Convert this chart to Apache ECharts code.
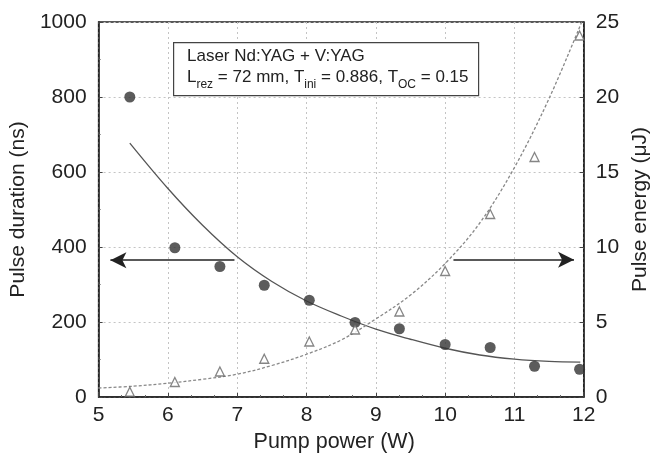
<!DOCTYPE html>
<html>
<head>
<meta charset="utf-8">
<script src="https://cdn.jsdelivr.net/npm/echarts@6/dist/echarts.min.js"></script>
<style>
html,body{margin:0;padding:0;background:#fff;}
#chart{width:659px;height:458px;}
</style>
</head>
<body>
<div id="chart"></div>
<script>
// Measured pulse duration (ns) vs pump power (W)
const powerPoints = [5.45, 6.10, 6.75, 7.39, 8.04, 8.70, 9.34, 10.00, 10.65, 11.29, 11.94];
const durationValues = [800, 398, 348, 298, 258, 199, 182, 140, 132, 82, 74];
// Measured pulse energy (uJ) vs pump power (W)
const energyValues = [0.35, 1.0, 1.7, 2.55, 3.7, 4.5, 5.7, 8.4, 12.2, 16.0, 24.1];

// Fit curve (duration)
const durFitX = [5.45, 6.0, 6.5, 7.0, 7.5, 8.0, 8.5, 9.0, 9.5, 10.0, 10.5, 11.0, 11.5, 11.95];
const durFitY = [677, 556, 458, 374, 308, 256, 216, 181, 154, 130, 112, 101, 95, 93];
// Fit curve (energy)
const enFitX = [5.0, 5.5, 6.0, 6.5, 7.0, 7.5, 8.0, 8.5, 9.0, 9.5, 10.0, 10.5, 11.0, 11.5, 11.97];
const enFitY = [0.6, 0.72, 0.92, 1.18, 1.52, 2.1, 2.85, 3.8, 5.2, 6.8, 8.9, 11.6, 15.3, 19.9, 25.0];

// Arrow annotations
const leftArrow = {from: [6.96, 365], to: [5.17, 365]};
const rightArrow = {from: [10.12, 9.15], to: [11.86, 9.15]};

const xTicks = {min: 5, max: 12, interval: 1};
const yLeftTicks = {min: 0, max: 1000, interval: 200};
const yRightTicks = {min: 0, max: 25, interval: 5};

const FONT = '"Liberation Sans", Arial, Helvetica, sans-serif';
const chart = echarts.init(document.getElementById('chart'), null, {renderer: 'canvas'});

const zip = (a, b) => a.map((v, i) => [v, b[i]]);

const axisText = {color: '#222', fontSize: 21, fontFamily: FONT, formatter: v => String(v)};

const option = {
  animation: false,
  backgroundColor: '#fff',
  grid: {left: 95, right: 72, top: 22, bottom: 61, show: true, borderColor: '#222', borderWidth: 1.5, backgroundColor: 'transparent'},
  xAxis: {
    type: 'value', min: xTicks.min, max: xTicks.max, interval: xTicks.interval,
    name: 'Pump power (W)', nameLocation: 'middle', nameGap: 31,
    nameTextStyle: {color: '#222', fontSize: 21.5, fontFamily: FONT, padding: [0, 14, 0, 0]},
    axisLine: {show: true, lineStyle: {color: '#222', width: 1.5}},
    axisTick: {show: true, inside: true, length: 4, lineStyle: {color: '#444'}},
    minorTick: {show: true, splitNumber: 3, length: 2, lineStyle: {color: '#666'}},
    axisLabel: Object.assign({margin: 8}, axisText),
    splitLine: {show: true, lineStyle: {color: '#c4c4c4', type: [2, 3], width: 1}}
  },
  yAxis: [
    {
      type: 'value', min: yLeftTicks.min, max: yLeftTicks.max, interval: yLeftTicks.interval,
      name: 'Pulse duration (ns)', nameLocation: 'middle', nameGap: 56, nameRotate: 90,
      nameTextStyle: {color: '#222', fontSize: 21, fontFamily: FONT},
      axisLine: {show: true, lineStyle: {color: '#222', width: 1.5}},
      axisTick: {show: true, inside: true, length: 4, lineStyle: {color: '#444'}},
      minorTick: {show: true, splitNumber: 2, length: 2, lineStyle: {color: '#666'}},
      axisLabel: Object.assign({margin: 12}, axisText),
      splitLine: {show: true, lineStyle: {color: '#c4c4c4', type: [2, 3], width: 1}}
    },
    {
      type: 'value', position: 'right', min: yRightTicks.min, max: yRightTicks.max, interval: yRightTicks.interval,
      name: 'Pulse energy (μJ)', nameLocation: 'middle', nameGap: 37, nameRotate: 90,
      nameTextStyle: {color: '#222', fontSize: 21, fontFamily: FONT},
      axisLine: {show: true, lineStyle: {color: '#222', width: 1.5}},
      axisTick: {show: true, inside: true, length: 4, lineStyle: {color: '#444'}},
      axisLabel: Object.assign({margin: 12}, axisText),
      splitLine: {show: false}
    }
  ],
  series: [
    {
      type: 'line', yAxisIndex: 0, data: zip(durFitX, durFitY), smooth: 0.35,
      showSymbol: false, lineStyle: {color: '#555', width: 1.3}, z: 2, silent: true,
      markLine: {
        silent: true, symbol: ['none', 'arrow'], symbolSize: [12, 16],
        lineStyle: {color: '#222', width: 1.5, type: 'solid'}, label: {show: false},
        data: [[{coord: leftArrow.from}, {coord: leftArrow.to}]]
      }
    },
    {
      type: 'line', yAxisIndex: 1, data: zip(enFitX, enFitY), smooth: 0.35,
      showSymbol: false, lineStyle: {color: '#888', width: 1.3, type: [3, 2]}, z: 2, silent: true,
      markLine: {
        silent: true, symbol: ['none', 'arrow'], symbolSize: [12, 16],
        lineStyle: {color: '#222', width: 1.5, type: 'solid'}, label: {show: false},
        data: [[{coord: rightArrow.from}, {coord: rightArrow.to}]]
      }
    },
    {
      type: 'scatter', yAxisIndex: 0, data: zip(powerPoints, durationValues),
      symbol: 'circle', symbolSize: 11, itemStyle: {color: '#333'}, z: 4
    },
    {
      type: 'scatter', yAxisIndex: 1, data: zip(powerPoints, energyValues),
      symbol: 'triangle', symbolSize: 9, itemStyle: {color: '#fff', borderColor: '#666', borderWidth: 1.3}, z: 4
    }
  ],
  graphic: [
    {
      type: 'rect', left: 173, top: 42, z: 10,
      shape: {width: 305, height: 53},
      style: {fill: '#fff', stroke: '#444', lineWidth: 1.2}
    },
    {
      type: 'text', left: 187, top: 48, z: 11,
      style: {
        text: 'Laser Nd:YAG + V:YAG',
        fill: '#222', font: '17px ' + FONT
      }
    },
    {
      type: 'text', left: 187, top: 69, z: 11,
      style: {
        text: '{m|L}{s|rez}{m| = 72 mm, T}{s|ini}{m| = 0.886, T}{s|OC}{m| = 0.15}',
        fill: '#222', fontFamily: FONT,
        rich: {
          m: {fontSize: 17, fontFamily: FONT, fill: '#222', lineHeight: 22, verticalAlign: 'top'},
          s: {fontSize: 12, fontFamily: FONT, fill: '#222', lineHeight: 22, verticalAlign: 'bottom', padding: [10, 0, 0, 0]}
        }
      }
    }
  ]
};
chart.setOption(option);
</script>
</body>
</html>
